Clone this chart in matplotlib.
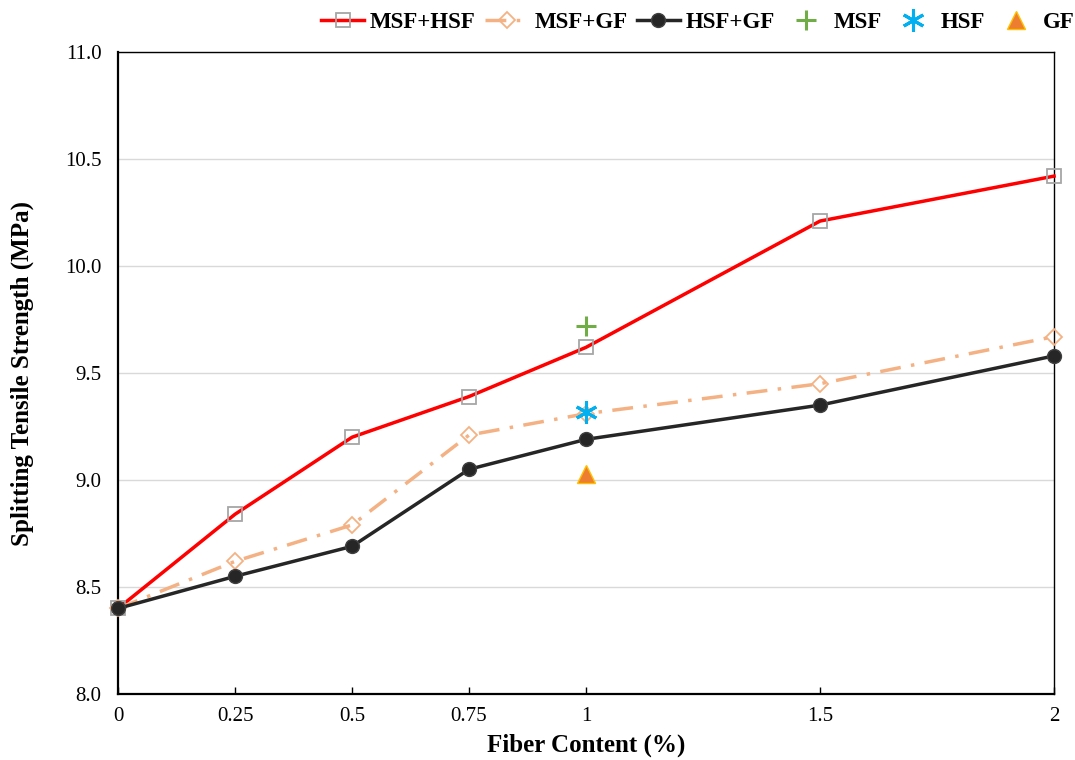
import matplotlib
matplotlib.use("Agg")
import matplotlib.pyplot as plt

fiber = [0, 0.25, 0.5, 0.75, 1, 1.5, 2]
tick_labels = ["0", "0.25", "0.5", "0.75", "1", "1.5", "2"]

msf_hsf = [8.40, 8.84, 9.20, 9.39, 9.62, 10.21, 10.42]
msf_gf = [8.40, 8.62, 8.79, 9.21, 9.31, 9.45, 9.67]
hsf_gf = [8.40, 8.55, 8.69, 9.05, 9.19, 9.35, 9.58]

single_x = [1]
msf_single = [9.72]
hsf_single = [9.32]
gf_single = [9.03]

y_ticks = [8.0, 8.5, 9.0, 9.5, 10.0, 10.5, 11.0]

plt.rcParams['font.family'] = ['Liberation Serif', 'DejaVu Serif']

fig = plt.figure(figsize=(10.75, 7.6), dpi=100)
ax = fig.add_axes([0.1098, 0.0868, 0.8707, 0.8448])

ax.set_xlim(0, 2)
ax.set_ylim(8.0, 11.0)
ax.set_yticks(y_ticks)
ax.set_yticklabels([f"{v:.1f}" for v in y_ticks])
ax.set_xticks(fiber)
ax.set_xticklabels(tick_labels)
ax.grid(axis='y', color='#d9d9d9', linewidth=1.0)
ax.set_axisbelow(True)
ax.tick_params(axis='x', direction='in', length=5, width=1, labelsize=15, pad=9)
ax.tick_params(axis='y', length=0, labelsize=15, pad=12)
for s in ax.spines.values():
    s.set_linewidth(1.0)
for s in ['left', 'bottom']:
    ax.spines[s].set_linewidth(1.6)

l1, = ax.plot(fiber, msf_hsf, color='#ff0000', lw=2.5, marker='s', ms=10,
              mfc='none', mec='#a6a6a6', mew=1.3, zorder=3, clip_on=False)
l2, = ax.plot(fiber, msf_gf, color='#f4b183', lw=2.5, ls=(0, (6, 3, 1, 3)),
              marker='D', ms=8, mfc='none', mec='#f4b183', mew=1.3, zorder=3, clip_on=False)
l3, = ax.plot(fiber, hsf_gf, color='#262626', lw=2.5, marker='o', ms=10,
              mfc='#262626', mec='#404040', mew=1, zorder=4, clip_on=False)
l4, = ax.plot(single_x, msf_single, ls='none', marker='+', ms=15, mew=2.2,
              color='#70ad47', zorder=5)
l5, = ax.plot(single_x, hsf_single, ls='none', marker=(6, 2, 0), ms=16, mew=2.2,
              color='#00b0f0', zorder=5)
l6, = ax.plot(single_x, gf_single, ls='none', marker='^', ms=13, mfc='#ed7d31',
              mec='#ffc000', mew=1, zorder=5)

ax.set_xlabel("Fiber Content (%)", fontsize=18, fontweight='bold', labelpad=6)
ax.set_ylabel("Splitting Tensile Strength (MPa)", fontsize=18, fontweight='bold', labelpad=22)

fig.legend([l1, l2, l3, l4, l5, l6],
           ["MSF+HSF", "MSF+GF", "HSF+GF", "MSF", "HSF", "GF"],
           loc='upper right', bbox_to_anchor=(1.019, 1.012), ncol=6, frameon=False,
           prop={'weight': 'bold', 'size': 16.5}, handlelength=1.9,
           columnspacing=0.4, handletextpad=0.25)

fig.savefig("out.png", dpi=100)
